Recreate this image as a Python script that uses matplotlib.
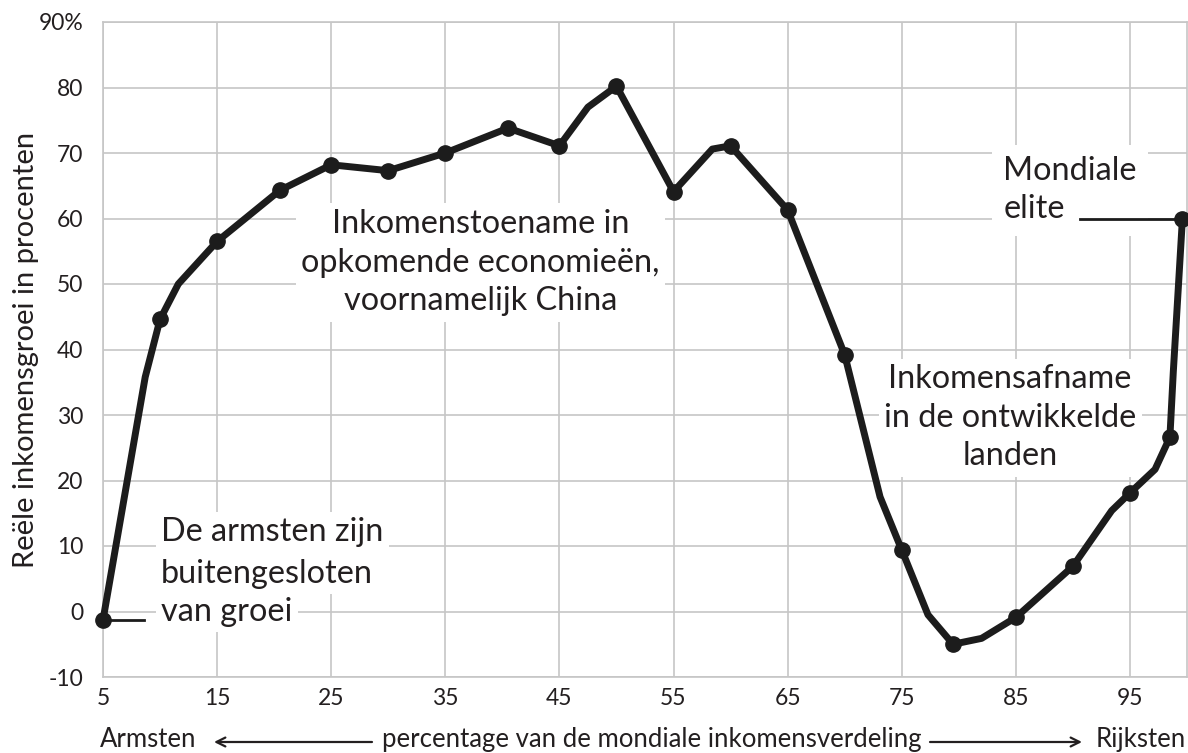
import matplotlib.pyplot as plt
from matplotlib.patches import FancyArrowPatch

plt.rcParams["font.family"] = ["Lato", "DejaVu Sans"]

# curve vertices (percentile of global income distribution, real income growth %)
curve_x = [5, 8.7, 10, 11.6, 15, 20.5, 25, 30, 35, 40.5, 45, 47.5, 50, 55, 58.4, 60,
           65, 70, 73.1, 75, 77.3, 79.5, 82, 85, 90, 93.4, 95, 97.2, 98.5, 98.8, 99.6]
curve_y = [-1.3, 35.8, 44.6, 50.0, 56.5, 64.3, 68.2, 67.3, 70.0, 73.8, 71.1, 77.0, 80.2, 64.1, 70.6, 71.1,
           61.3, 39.2, 17.5, 9.4, -0.5, -5.0, -4.1, -0.9, 6.9, 15.4, 18.1, 21.7, 26.6, 36.6, 60.0]
# which vertices carry a dot
has_dot = [1, 0, 1, 0, 1, 1, 1, 1, 1, 1, 1, 0, 1, 1, 0, 1,
           1, 1, 0, 1, 0, 1, 0, 1, 1, 0, 1, 0, 1, 0, 1]

x_ticks = [5, 15, 25, 35, 45, 55, 65, 75, 85, 95]
y_ticks = [-10, 0, 10, 20, 30, 40, 50, 60, 70, 80, 90]
y_labels = ["-10", "0", "10", "20", "30", "40", "50", "60", "70", "80", "90%"]

INK = "#231f20"
LINE = "#1c1c1c"
GRID = "#c6c6c6"

fig = plt.figure(figsize=(11.88, 7.53), dpi=100)
ax = fig.add_axes([103 / 1188, 76 / 753, 1084 / 1188, 655 / 753])

ax.set_xlim(5, 100)
ax.set_ylim(-10, 90)
ax.set_xticks(x_ticks)
ax.set_yticks(y_ticks)
ax.set_yticklabels(y_labels)
ax.grid(True, color=GRID, linewidth=1.2)
ax.set_axisbelow(True)
for s in ax.spines.values():
    s.set_color(GRID)
    s.set_linewidth(1.2)
ax.tick_params(length=0, labelsize=16.5, colors=INK)
ax.tick_params(axis="y", pad=14)
ax.tick_params(axis="x", pad=8)

ax.plot(curve_x, curve_y, color=LINE, lw=5, solid_joinstyle="round", solid_capstyle="round",
        zorder=4, clip_on=False)
dot_x = [x for x, d in zip(curve_x, has_dot) if d]
dot_y = [y for y, d in zip(curve_y, has_dot) if d]
ax.plot(dot_x, dot_y, "o", ms=11, color=LINE, zorder=5, clip_on=False)

# connectors from labels to the end points
ax.plot([curve_x[0], 8.6], [curve_y[0], curve_y[0]], color=LINE, lw=2, zorder=3.5)
ax.plot([90.6, curve_x[-1]], [curve_y[-1], curve_y[-1]], color=LINE, lw=2, zorder=3.5)

box = dict(facecolor="white", edgecolor="none", pad=4)
txt = dict(fontsize=23.3, color=INK, zorder=3)

for label, yb in [("De armsten zijn", 10.7), ("buitengesloten", 4.4), ("van groei", -1.4)]:
    ax.text(10.1, yb, label, ha="left", va="baseline", bbox=box, **txt)

ax.text(38.1, 46.0, "Inkomenstoename in\nopkomende economieën,\nvoornamelijk China",
        ha="center", va="baseline", multialignment="center", linespacing=1.36, bbox=box, **txt)
ax.text(83.9, 60.0, "Mondiale\nelite", ha="left", va="baseline", linespacing=1.36,
        bbox=dict(facecolor="white", edgecolor="none", pad=8), **txt)
ax.text(84.5, 22.3, "Inkomensafname\nin de ontwikkelde\nlanden", ha="center", va="baseline",
        multialignment="center", linespacing=1.36, bbox=box, **txt)

fig.text(26 / 1188, 1 - 350 / 753, "Reële inkomensgroei in procenten", rotation=90,
         ha="center", va="center", fontsize=21, color=INK)

yb = (753 - 747) / 753
fig.text(100 / 1188, yb, "Armsten", ha="left", va="baseline", fontsize=18.5, color=INK)
fig.text(652 / 1188, yb, "percentage van de mondiale inkomensverdeling", ha="center",
         va="baseline", fontsize=18.5, color=INK)
fig.text(1186 / 1188, yb, "Rijksten", ha="right", va="baseline", fontsize=18.5, color=INK)

ya = 1 - 742 / 753
arrow = dict(arrowstyle="->", color=INK, lw=1.6, mutation_scale=16, shrinkA=0, shrinkB=0)
fig.add_artist(FancyArrowPatch((372 / 1188, ya), (214 / 1188, ya), transform=fig.transFigure, **arrow))
fig.add_artist(FancyArrowPatch((930 / 1188, ya), (1082 / 1188, ya), transform=fig.transFigure, **arrow))

fig.savefig("out.png", dpi=100)
